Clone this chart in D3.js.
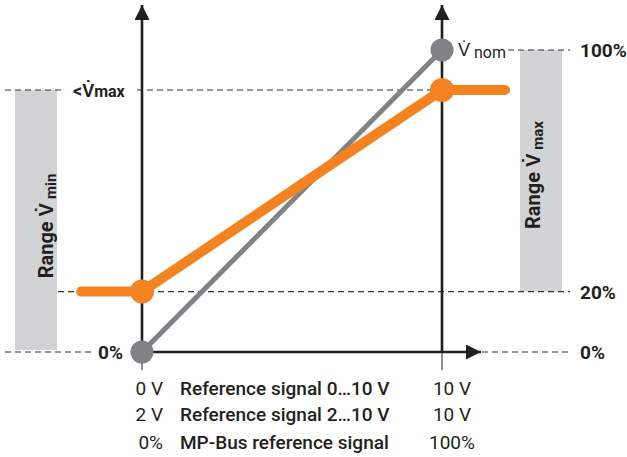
<!DOCTYPE html>
<html>
<head>
<meta charset="utf-8">
<script src="https://cdnjs.cloudflare.com/ajax/libs/d3/7.8.5/d3.min.js"></script>
<style>
  body { margin: 0; background: #fff; }
  text { font-family: Roboto, "Liberation Sans", sans-serif; fill: #231f20; }
</style>
</head>
<body>
<div id="chart"></div>
<script>
// signal (%) vs volumetric flow (%)
var signalDomain = [0, 100];
var flowDomain = [0, 100];
var vMin = 20;
var vMax = 86.75;
var nominalLine = [[0, 0], [100, 100]];
var orangeLine = [[-20.3, vMin], [0, vMin], [100, vMax], [121, vMax]];
var orangeDots = [[0, vMin], [100, vMax]];
var greyDots = [[0, 0], [100, 100]];
var rowsLeft = ["0 V", "2 V", "0%"];
var rowsMid = ["Reference signal 0\u202610 V", "Reference signal 2\u202610 V", "MP-Bus reference signal"];
var rowsRight = ["10 V", "10 V", "100%"];

var W = 627, H = 457;
var svg = d3.select("#chart").append("svg").attr("width", W).attr("height", H);

var x = d3.scaleLinear().domain(signalDomain).range([142, 442]);
var y = d3.scaleLinear().domain(flowDomain).range([352, 50]);

var ink = "#231f20", orange = "#f58220", grey = "#808285", band = "#d1d3d4";

// range bands
svg.append("rect").attr("x", 15).attr("width", 42)
  .attr("y", y(vMax)).attr("height", y(0) - 2 - y(vMax)).attr("fill", band);
svg.append("rect").attr("x", 520).attr("width", 42)
  .attr("y", y(100)).attr("height", y(vMin) - y(100)).attr("fill", band);

// dashed guides
function dash(x1, x2, yy) {
  svg.append("line").attr("x1", x1).attr("x2", x2).attr("y1", yy).attr("y2", yy)
    .attr("stroke", "#333335").attr("stroke-width", 1.2).attr("stroke-dasharray", "6,4");
}
dash(5, 65, y(vMax));
dash(137, x(100), y(vMax));
dash(58, 570, y(vMin));
dash(508, 570, y(100));
dash(5, 92, y(0));
dash(482, 570, y(0));

// axes
var defs = svg.append("defs");
defs.append("marker").attr("id", "arr").attr("viewBox", "0 0 10 10")
  .attr("refX", 10).attr("refY", 5).attr("markerWidth", 22).attr("markerHeight", 15)
  .attr("markerUnits", "userSpaceOnUse").attr("orient", "auto")
  .append("path").attr("d", "M0,0L10,5L0,10Z").attr("fill", ink);

svg.append("line").attr("x1", x(0)).attr("x2", x(0)).attr("y1", y(0)).attr("y2", 5)
  .attr("stroke", ink).attr("stroke-width", 2.6).attr("marker-end", "url(#arr)");
svg.append("line").attr("x1", x(100)).attr("x2", x(100)).attr("y1", y(0)).attr("y2", 5)
  .attr("stroke", ink).attr("stroke-width", 2.6).attr("marker-end", "url(#arr)");
svg.append("line").attr("x1", x(0)).attr("x2", 481).attr("y1", y(0)).attr("y2", y(0))
  .attr("stroke", ink).attr("stroke-width", 2.6).attr("marker-end", "url(#arr)");
// small ticks below the axis
[0, 100].forEach(function (v) {
  svg.append("line").attr("x1", x(v)).attr("x2", x(v)).attr("y1", y(0)).attr("y2", y(0) + 18)
    .attr("stroke", ink).attr("stroke-width", 1);
});

var line = d3.line().x(function (d) { return x(d[0]); }).y(function (d) { return y(d[1]); });

svg.append("path").datum(nominalLine).attr("d", line).attr("fill", "none")
  .attr("stroke", grey).attr("stroke-width", 5);
svg.selectAll("circle.g").data(greyDots).enter().append("circle").attr("class", "g")
  .attr("cx", function (d) { return x(d[0]); }).attr("cy", function (d) { return y(d[1]); })
  .attr("r", 11.5).attr("fill", grey);

svg.append("path").datum(orangeLine).attr("d", line).attr("fill", "none")
  .attr("stroke", orange).attr("stroke-width", 10).attr("stroke-linecap", "round")
  .attr("stroke-linejoin", "round");
svg.selectAll("circle.o").data(orangeDots).enter().append("circle").attr("class", "o")
  .attr("cx", function (d) { return x(d[0]); }).attr("cy", function (d) { return y(d[1]); })
  .attr("r", 12).attr("fill", orange);

// value labels
function lab(tx, ty, s, size, anchor, weight) {
  return svg.append("text").attr("x", tx).attr("y", ty).attr("font-size", size)
    .attr("font-weight", weight || 700).attr("text-anchor", anchor || "start").text(s);
}
lab(580, y(100) + 7, "100%", 19);
lab(580, y(vMin) + 7, "20%", 19);
lab(580, y(0) + 7, "0%", 19);
lab(123, y(0) + 7, "0%", 19, "end");
var vm = svg.append("text").attr("x", 73).attr("y", y(vMax) + 7).attr("font-size", 18).attr("font-weight", 700);
vm.append("tspan").text("<V\u0307");
vm.append("tspan").attr("font-size", 16).text("max");
var vn = svg.append("text").attr("x", 458).attr("y", y(100) + 6).attr("font-size", 18).attr("font-weight", 400);
vn.append("tspan").text("V\u0307");
vn.append("tspan").attr("dx", 4).attr("dy", 2).attr("font-size", 16).text("nom");

// vertical band labels
var t1 = svg.append("text").attr("transform", "translate(53,226) rotate(-90)")
  .attr("text-anchor", "middle").attr("font-size", 20).attr("font-weight", 700);
t1.append("tspan").text("Range V\u0307");
t1.append("tspan").attr("dx", 4).attr("dy", 3).attr("font-size", 15).text("min");
var t2 = svg.append("text").attr("transform", "translate(540,175) rotate(-90)")
  .attr("text-anchor", "middle").attr("font-size", 20).attr("font-weight", 700);
t2.append("tspan").text("Range V\u0307");
t2.append("tspan").attr("dx", 4).attr("dy", 3).attr("font-size", 15).text("max");

// bottom legend rows
var rowY = [395, 421, 449];
rowsLeft.forEach(function (s, i) { lab(163, rowY[i], s, 19, "end", 400); });
rowsMid.forEach(function (s, i) { lab(180, rowY[i], s, 19, "start", 500); });
rowsRight.forEach(function (s, i) { lab(452, rowY[i], s, 19, "middle", 400); });
</script>
</body>
</html>
